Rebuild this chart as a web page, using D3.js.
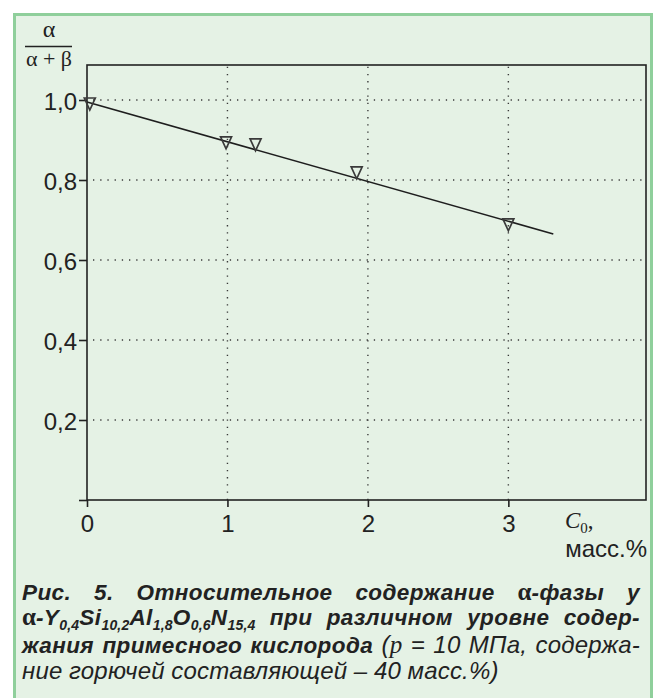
<!DOCTYPE html>
<html>
<head>
<meta charset="utf-8">
<script src="https://cdn.jsdelivr.net/npm/d3@7"></script>
<style>
  html, body { margin: 0; padding: 0; background: #ffffff; }
  svg { display: block; }
  .tick text { font-family: "Liberation Sans", Arial, sans-serif; fill: #222; }
</style>
</head>
<body>
<svg id="chart" width="653" height="698"></svg>
<script>
// Oxygen impurity content C0, mass %
const conc = [0.02, 0.99, 1.20, 1.92, 3.00];
// Relative alpha-phase content alpha/(alpha+beta)
const alphaShare = [0.99, 0.893, 0.888, 0.818, 0.688];
// Linear trend end points
const trendX = [0.0, 3.32];
const trendY = [0.995, 0.665];
// Axis ticks
const xTicks = [0, 1, 2, 3];
const yTicks = [0, 0.2, 0.4, 0.6, 0.8, 1.0];
const xTickLabels = ["0", "1", "2", "3"];
const yTickLabels = ["", "0,2", "0,4", "0,6", "0,8", "1,0"];

const svg = d3.select("#chart");

// Panel background and border
svg.append("rect").attr("x", 14.5).attr("y", 14.5).attr("width", 637).attr("height", 720)
  .attr("fill", "#e5f2e5").attr("stroke", "#8fcf9b").attr("stroke-width", 3);

const plot = { left: 87, right: 646, top: 65, bottom: 500 };
const x = d3.scaleLinear().domain([0, 3.98]).range([plot.left, plot.right]);
const y = d3.scaleLinear().domain([0, 1.0875]).range([plot.bottom, plot.top]);

// Dotted grid
const grid = svg.append("g").attr("stroke", "#3a3a3a").attr("stroke-width", 1.4)
  .attr("stroke-dasharray", "1.3,5.9").attr("fill", "none");
grid.selectAll("line.h").data(yTicks.filter(d => d > 0)).join("line")
  .attr("x1", plot.left + 6).attr("x2", plot.right).attr("y1", d => y(d)).attr("y2", d => y(d));
grid.selectAll("line.v").data(xTicks.filter(d => d > 0)).join("line")
  .attr("y1", plot.bottom).attr("y2", plot.top).attr("x1", d => x(d)).attr("x2", d => x(d));

// Frame
svg.append("rect").attr("x", plot.left).attr("y", plot.top)
  .attr("width", plot.right - plot.left).attr("height", plot.bottom - plot.top)
  .attr("fill", "none").attr("stroke", "#222").attr("stroke-width", 1.6);

// Axes
const yAxis = d3.axisLeft(y).tickValues(yTicks).tickSize(8).tickSizeOuter(0).tickPadding(2)
  .tickFormat((d, i) => yTickLabels[i]);
const gy = svg.append("g").attr("transform", `translate(${plot.left},0)`).call(yAxis);
gy.select(".domain").remove();
gy.selectAll(".tick line").attr("stroke", "#222").attr("stroke-width", 1.6);
gy.selectAll(".tick text").attr("font-size", 24).attr("dy", "0.4em");

const xAxis = d3.axisBottom(x).tickValues(xTicks).tickSize(7).tickSizeOuter(0)
  .tickFormat((d, i) => xTickLabels[i]);
const gx = svg.append("g").attr("transform", `translate(0,${plot.bottom})`).call(xAxis);
gx.select(".domain").remove();
gx.selectAll(".tick line").attr("stroke", "#222").attr("stroke-width", 1.6);
gx.selectAll(".tick text").attr("font-size", 24).attr("y", 32).attr("dy", 0);

// Trend line
const line = d3.line().x(d => x(d[0])).y(d => y(d[1]));
svg.append("path").datum(d3.zip(trendX, trendY)).attr("d", line)
  .attr("fill", "none").attr("stroke", "#1e1e1e").attr("stroke-width", 1.6);

// Markers: open down-pointing triangles
const tri = "M-5.5,-6L5.5,-6L0,6Z";
svg.selectAll("path.pt").data(d3.zip(conc, alphaShare)).join("path")
  .attr("class", "pt")
  .attr("transform", d => `translate(${x(d[0])},${y(d[1])})`)
  .attr("d", tri).attr("fill", "none").attr("stroke", "#3a3a3a").attr("stroke-width", 1.7)
  .attr("stroke-linejoin", "miter");

// Y axis title: alpha / (alpha + beta)
const serif = "'Liberation Serif', 'Times New Roman', serif";
svg.append("text").attr("x", 49).attr("y", 37).attr("text-anchor", "middle")
  .attr("font-family", serif).attr("font-size", 24).attr("fill", "#222").text("α");
svg.append("line").attr("x1", 25).attr("x2", 72).attr("y1", 46.5).attr("y2", 46.5)
  .attr("stroke", "#222").attr("stroke-width", 1.3);
svg.append("text").attr("x", 49).attr("y", 66).attr("text-anchor", "middle")
  .attr("font-family", serif).attr("font-size", 22).attr("fill", "#222").text("α + β");

// X axis title
const xt = svg.append("text").attr("x", 565).attr("y", 528).attr("font-family", serif).attr("fill", "#222");
xt.append("tspan").attr("font-size", 23).attr("font-style", "italic").text("C");
xt.append("tspan").attr("font-size", 15).attr("dy", 5).text("0");
xt.append("tspan").attr("font-size", 23).attr("dy", -5).text(",");
svg.append("text").attr("x", 647).attr("y", 557).attr("text-anchor", "end")
  .attr("font-family", "'Liberation Sans', Arial, sans-serif").attr("font-size", 24)
  .attr("fill", "#222").text("масс.%");

// Figure caption, justified line by line
const sans = "'Liberation Sans', Arial, sans-serif";
const styles = {
  bi: { family: sans, size: 22.5, style: "italic", weight: "bold", ls: 0.4 },
  ga: { family: serif, size: 25, style: "normal", weight: "bold", ls: 0 },
  sb: { family: sans, size: 14, style: "italic", weight: "bold", ls: 0.2, sub: true },
  i:  { family: sans, size: 24, style: "italic", weight: "normal", ls: 0.2 },
  si: { family: serif, size: 25, style: "italic", weight: "normal", ls: 0 }
};
const captionLines = [
  { y: 600, justify: true, words: [
    [["Рис.", "bi"]], [["5.", "bi"]], [["Относительное", "bi"]], [["содержание", "bi"]],
    [["α", "ga"], ["-фазы", "bi"]], [["у", "bi"]] ] },
  { y: 625, justify: true, words: [
    [["α", "ga"], ["-Y", "bi"], ["0,4", "sb"], ["Si", "bi"], ["10,2", "sb"], ["Al", "bi"], ["1,8", "sb"],
     ["O", "bi"], ["0,6", "sb"], ["N", "bi"], ["15,4", "sb"]],
    [["при", "bi"]], [["различном", "bi"]], [["уровне", "bi"]], [["содер-", "bi"]] ] },
  { y: 653, justify: true, words: [
    [["жания", "bi"]], [["примесного", "bi"]], [["кислорода", "bi"]],
    [["(", "i"], ["p", "si"]], [["=", "i"]], [["10", "i"]], [["МПа,", "i"]], [["содержа-", "i"]] ] },
  { y: 679, justify: false, words: [
    [["ние", "i"]], [["горючей", "i"]], [["составляющей", "i"]], [["–", "i"]], [["40", "i"]], [["масс.%)", "i"]] ] }
];
const capLeft = 22, capRight = 640;
const cap = svg.append("g").attr("fill", "#222");
captionLines.forEach(ln => {
  const nodes = ln.words.map(word => {
    const t = cap.append("text").attr("x", 0).attr("y", ln.y);
    let shift = 0;
    word.forEach(([txt, key]) => {
      const s = styles[key];
      const target = s.sub ? 5 : 0;
      t.append("tspan").attr("dy", target - shift)
        .attr("font-family", s.family).attr("font-size", s.size)
        .attr("font-style", s.style).attr("font-weight", s.weight)
        .attr("letter-spacing", s.ls).text(txt);
      shift = target;
    });
    return t;
  });
  const widths = nodes.map(n => n.node().getComputedTextLength());
  const total = d3.sum(widths);
  const gap = ln.justify ? (capRight - capLeft - total) / (nodes.length - 1) : 6.5;
  let cx = capLeft;
  nodes.forEach((n, i) => { n.attr("x", cx); cx += widths[i] + gap; });
});
</script>
</body>
</html>
